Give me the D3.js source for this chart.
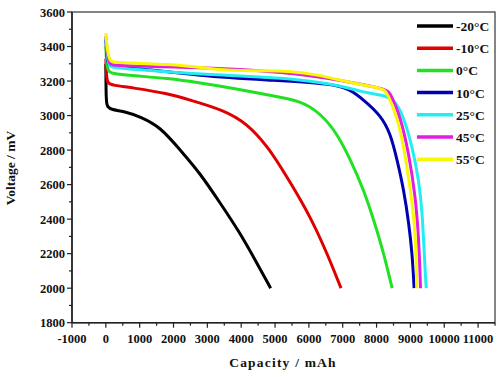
<!DOCTYPE html>
<html><head><meta charset="utf-8">
<script src="https://cdn.jsdelivr.net/npm/d3@7/dist/d3.min.js"></script>
<style>body{margin:0;background:#fff}svg{display:block}text{font-family:"Liberation Serif","Times New Roman",serif;font-weight:bold;fill:#111}</style>
</head><body><svg id="c" width="500" height="377"></svg>
<script>
const xTicks=[-1000,0,1000,2000,3000,4000,5000,6000,7000,8000,9000,10000,11000];
const yTicks=[1800,2000,2200,2400,2600,2800,3000,3200,3400,3600];
const seriesNames=["-20°C","-10°C","0°C","10°C","25°C","45°C","55°C"];
const seriesColors=["#000000","#e00000","#22e022","#0000b0","#22eef0","#e020e0","#f8f800"];
const sM20=[[0,3300],[5,3150],[15,3055],[120,3036],[600,3022],[1015,2993],[1607,2935],[2198,2800],[2790,2665],[3382,2492],[3973,2318],[4467,2144],[4870,2000]];
const sM10=[[0,3330],[15,3250],[40,3185],[200,3176],[817,3160],[1805,3129],[2494,3090],[3479,3032],[4172,2955],[4800,2815],[5157,2705],[5453,2612],[6044,2414],[6538,2202],[6950,2000]];
const s0=[[0,3400],[20,3300],[80,3250],[219,3243],[810,3231],[1805,3216],[2790,3190],[3775,3158],[4763,3119],[5750,3088],[6341,3013],[6834,2897],[7234,2742],[7622,2569],[7917,2395],[8213,2202],[8460,2000]];
const s10=[[0,3440],[30,3330],[90,3290],[200,3284],[810,3277],[2790,3230],[4763,3206],[6730,3185],[7230,3150],[7622,3090],[8115,3003],[8411,2897],[8609,2742],[8805,2569],[8953,2376],[9053,2202],[9110,2000]];
const s25=[[0,3450],[40,3340],[100,3285],[200,3280],[810,3268],[2790,3237],[5750,3216],[7230,3160],[7520,3140],[7820,3129],[8115,3119],[8510,3100],[8805,2993],[9053,2820],[9250,2627],[9350,2434],[9400,2240],[9450,2047],[9470,2000]];
const s45=[[0,3460],[50,3350],[110,3297],[200,3292],[1000,3285],[3000,3278],[5000,3255],[6250,3228],[7720,3175],[8300,3150],[8411,3129],[8707,2993],[8953,2781],[9151,2530],[9250,2279],[9300,2000]];
const s55=[[0,3477],[40,3380],[120,3315],[225,3308],[810,3303],[2200,3295],[3284,3264],[4270,3258],[5453,3260],[6250,3238],[7520,3177],[8213,3158],[8314,3129],[8609,2993],[8805,2820],[9003,2569],[9151,2337],[9190,2000]];
const allSeries=[sM20,sM10,s0,s10,s25,s45,s55];

const svg=d3.select("#c");
const L=72,R=495,T=12,B=322.7;
const x=d3.scaleLinear().domain([-1000,11500]).range([L,R]);
const y=d3.scaleLinear().domain([1800,3600]).range([B,T]);

svg.append("rect").attr("x",L).attr("y",T).attr("width",R-L).attr("height",B-T).attr("fill","none").attr("stroke","#444").attr("stroke-width",1.3);
svg.append("line").attr("x1",L).attr("x2",R).attr("y1",B).attr("y2",B).attr("stroke","#222").attr("stroke-width",1.6);
svg.append("line").attr("x1",L).attr("x2",L).attr("y1",T).attr("y2",B).attr("stroke","#222").attr("stroke-width",1.6);

const xMinor=d3.range(-1000,11501,500);
const yMinor=d3.range(1800,3601,100);
svg.append("g").selectAll("line").data(xMinor).join("line")
 .attr("x1",d=>x(d)).attr("x2",d=>x(d)).attr("y1",B).attr("y2",d=>B+(d%1000===0?5:3)).attr("stroke","#222").attr("stroke-width",1.2);
svg.append("g").selectAll("line").data(yMinor).join("line")
 .attr("y1",d=>y(d)).attr("y2",d=>y(d)).attr("x1",L).attr("x2",d=>L-(d%200===0?5:3)).attr("stroke","#222").attr("stroke-width",1.2);

svg.append("g").selectAll("text").data(xTicks).join("text")
 .attr("x",d=>x(d)).attr("y",B+20).attr("text-anchor","middle").attr("font-size",12.5).text(d=>d);
svg.append("g").selectAll("text").data(yTicks).join("text")
 .attr("x",L-7).attr("y",d=>y(d)+4.5).attr("text-anchor","end").attr("font-size",12.5).text(d=>d);

svg.append("text").attr("x",283).attr("y",367).attr("text-anchor","middle").attr("font-size",13.5).attr("letter-spacing",1.2).text("Capacity / mAh");
svg.append("text").attr("transform","translate(15,168) rotate(-90)").attr("text-anchor","middle").attr("font-size",13.5).text("Voltage / mV");

const line=d3.line().x(d=>x(d[0])).y(d=>y(d[1])).curve(d3.curveBasis);
svg.append("clipPath").attr("id","pc").append("rect").attr("x",L).attr("y",T).attr("width",R-L).attr("height",B-T);
const g=svg.append("g").attr("clip-path","url(#pc)");
allSeries.forEach((s,i)=>{
 g.append("path").attr("d",line(s)).attr("fill","none").attr("stroke",seriesColors[i]).attr("stroke-width",3).attr("stroke-linejoin","round");
});

const lg=svg.append("g");
seriesNames.forEach((n,i)=>{
 const yy=26+i*22.2;
 lg.append("line").attr("x1",417).attr("x2",453).attr("y1",yy).attr("y2",yy).attr("stroke",seriesColors[i]).attr("stroke-width",3.5);
 lg.append("text").attr("x",456).attr("y",yy+5).attr("font-size",13.5).text(n);
});
</script></body></html>
